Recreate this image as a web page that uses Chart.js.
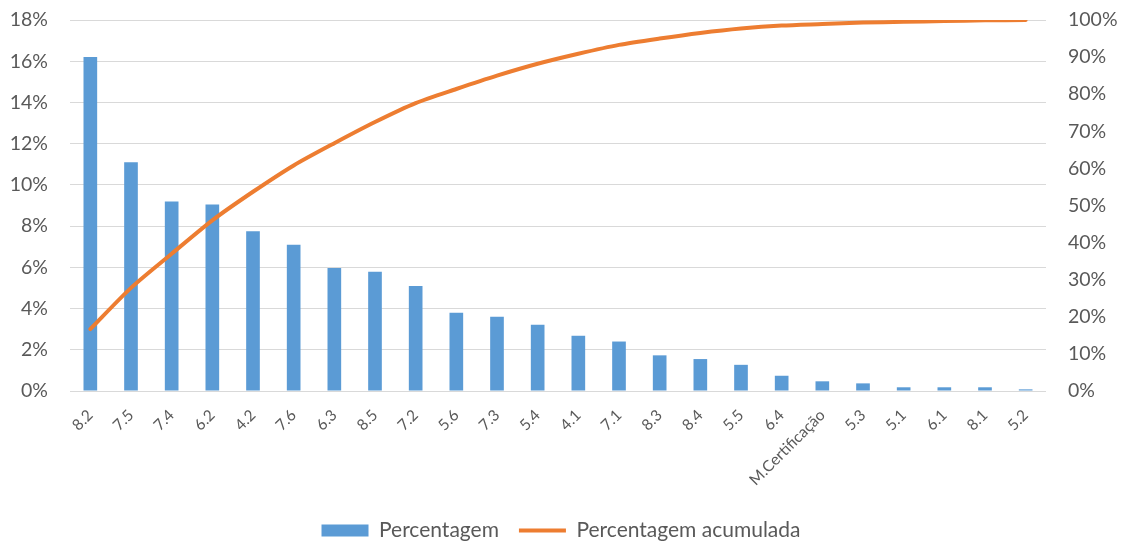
<!DOCTYPE html>
<html>
<head>
<meta charset="utf-8">
<script src="https://cdn.jsdelivr.net/npm/chart.js@4"></script>
<style>
  html, body { margin: 0; padding: 0; background: #ffffff; }
  #wrap { width: 1122px; height: 541px; position: relative; overflow: hidden; }
</style>
</head>
<body>
<div id="wrap"><canvas id="pareto"></canvas></div>
<script>
// Categories sorted by share, largest first
const categories = ['8.2', '7.5', '7.4', '6.2', '4.2', '7.6', '6.3', '8.5', '7.2', '5.6', '7.3', '5.4',
  '4.1', '7.1', '8.3', '8.4', '5.5', '6.4', 'M.Certificação', '5.3', '5.1', '6.1', '8.1', '5.2'];

// Share of each category (%)
const percentagem = [16.2, 11.1, 9.2, 9.05, 7.75, 7.1, 5.97, 5.78, 5.1, 3.8, 3.6, 3.22,
  2.68, 2.4, 1.73, 1.55, 1.27, 0.74, 0.47, 0.37, 0.18, 0.18, 0.18, 0.08];

// Running total (%)
const percentagemAcumulada = [16.7, 27.8, 37.0, 46.0, 53.7, 60.8, 66.8, 72.5, 77.6, 81.4, 85.0, 88.2,
  90.9, 93.3, 95.0, 96.5, 97.7, 98.5, 98.9, 99.3, 99.5, 99.7, 99.9, 100];

// Axis tick values
const leftTicks = [0, 2, 4, 6, 8, 10, 12, 14, 16, 18];
const rightTicks = [0, 10, 20, 30, 40, 50, 60, 70, 80, 90, 100];

const FONT = 'Lato, "Open Sans", sans-serif';
const TEXT = '#595959';

// Fixed side widths; the tick padding should not push the plot down
const sideFit = (w) => (s) => { s.width = w; s.paddingTop = 0; s.paddingBottom = 0; };

new Chart(document.getElementById('pareto'), {
  data: {
    labels: categories,
    datasets: [
      {
        type: 'line',
        label: 'Percentagem acumulada',
        data: percentagemAcumulada,
        yAxisID: 'yRight',
        borderColor: '#ed7d31',
        backgroundColor: '#ed7d31',
        borderWidth: 4,
        pointRadius: 0,
        tension: 0.25,
        borderCapStyle: 'round',
        order: 0
      },
      {
        type: 'bar',
        label: 'Percentagem',
        data: percentagem,
        yAxisID: 'yLeft',
        backgroundColor: '#5b9bd5',
        borderWidth: 0,
        barPercentage: 0.42,
        categoryPercentage: 0.8,
        order: 1
      }
    ]
  },
  options: {
    responsive: true,
    maintainAspectRatio: false,
    animation: false,
    layout: { padding: { left: 0, right: 0, top: 20, bottom: -10 } },
    scales: {
      x: {
        grid: { display: false },
        border: { display: false },
        afterFit: (s) => { s.height = 109; },
        ticks: {
          color: TEXT,
          font: { family: FONT, size: 15.5 },
          minRotation: 45,
          maxRotation: 45,
          autoSkip: false,
          padding: 7
        }
      },
      yLeft: {
        position: 'left',
        min: 0,
        max: 18,
        afterBuildTicks: (s) => { s.ticks = leftTicks.map(v => ({ value: v })); },
        afterFit: sideFit(70),
        grid: { color: '#d9d9d9', lineWidth: 1, drawTicks: false },
        border: { display: false },
        ticks: {
          color: TEXT,
          font: { family: FONT, size: 19.5 },
          padding: 22,
          callback: (v) => v + '%'
        }
      },
      yRight: {
        position: 'right',
        min: 0,
        max: 100,
        afterBuildTicks: (s) => { s.ticks = rightTicks.map(v => ({ value: v })); },
        afterFit: sideFit(76),
        grid: { display: false, drawTicks: false },
        border: { display: false },
        ticks: {
          color: TEXT,
          font: { family: FONT, size: 19.5 },
          padding: 22,
          callback: (v) => v + '%'
        }
      }
    },
    plugins: {
      tooltip: { enabled: false },
      legend: {
        position: 'bottom',
        reverse: true,
        labels: {
          color: TEXT,
          font: { family: FONT, size: 21 },
          usePointStyle: true,
          pointStyleWidth: 47,
          boxHeight: 12,
          padding: 20,
          generateLabels: (chart) => chart.data.datasets.map((ds, i) => ({
            text: ds.label,
            datasetIndex: i,
            fillStyle: ds.backgroundColor,
            strokeStyle: ds.type === 'line' ? ds.borderColor : ds.backgroundColor,
            lineWidth: ds.type === 'line' ? 4 : 0,
            pointStyle: ds.type === 'line' ? 'line' : 'rect',
            fontColor: TEXT,
            hidden: false
          }))
        }
      }
    }
  }
});
</script>
</body>
</html>
